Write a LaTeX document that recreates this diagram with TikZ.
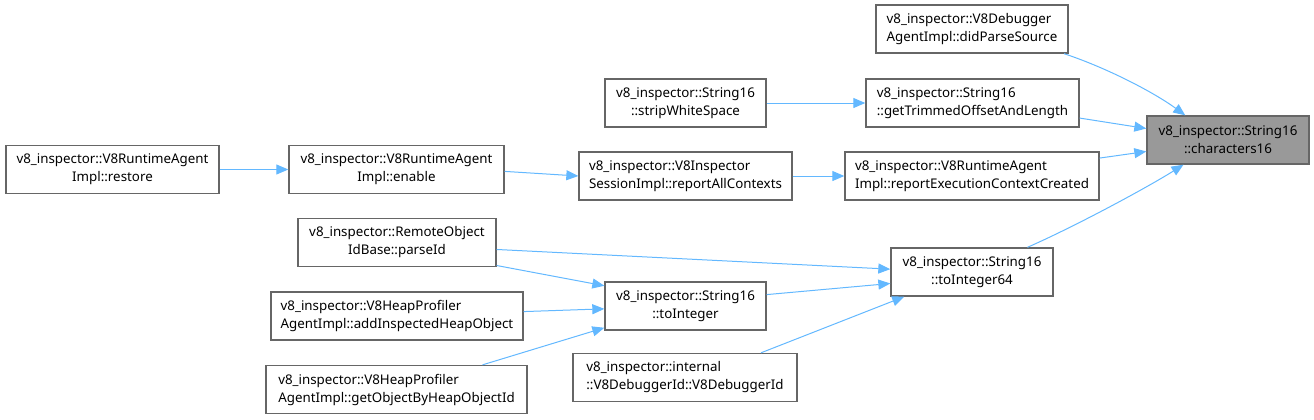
\documentclass[tikz,border=0pt]{standalone}
\usepackage{fontspec}
\setmainfont{Noto Sans}
\usepackage{tikz}
\usetikzlibrary{arrows.meta}
\definecolor{dxedge}{HTML}{63B8FF}
\definecolor{dxborder}{HTML}{666666}
\definecolor{dxhighlight}{HTML}{999999}

\begin{document}
\begin{tikzpicture}[x=0.75pt,y=-0.75pt,
  fnode/.style={rectangle, draw=dxborder, fill=white, line width=1pt, inner sep=0pt,
               minimum height=36pt, align=center, font=\fontsize{10}{13.5}\selectfont},
  lnode/.style={fnode, align=left},
  hlnode/.style={fnode, fill=dxhighlight},
  arrow/.style={-{Stealth[inset=0pt,length=9pt,width=7.5pt]}, draw=dxedge, line width=0.75pt}
]
  \useasboundingbox (0,0) rectangle (1314,419);
  \node[hlnode,minimum width=121.5pt] (ch16) at (1228,140) {v8\_inspector::String16\\::characters16};
  \node[lnode,minimum width=144pt] (didParse) at (972,29) {v8\_inspector::V8Debugger\\AgentImpl::didParseSource};
  \node[lnode,minimum width=159.75pt] (getTrim) at (972.5,103) {v8\_inspector::String16\\::getTrimmedOffsetAndLength};
  \node[fnode,minimum width=120.75pt] (strip) at (685.5,103) {v8\_inspector::String16\\::stripWhiteSpace};
  \node[lnode,minimum width=190.5pt] (repExec) at (972,176) {v8\_inspector::V8RuntimeAgent\\Impl::reportExecutionContextCreated};
  \node[lnode,minimum width=159.75pt] (repAll) at (685.5,176) {v8\_inspector::V8Inspector\\SessionImpl::reportAllContexts};
  \node[fnode,minimum width=161.25pt] (enable) at (396.5,169.5) {v8\_inspector::V8RuntimeAgent\\Impl::enable};
  \node[fnode,minimum width=159.75pt] (restore) at (112.5,169.5) {v8\_inspector::V8RuntimeAgent\\Impl::restore};
  \node[fnode,minimum width=121.5pt] (toInt64) at (972,272) {v8\_inspector::String16\\::toInteger64};
  \node[fnode,minimum width=148.5pt] (parseId) at (397,242.5) {v8\_inspector::RemoteObject\\IdBase::parseId};
  \node[fnode,minimum width=120.75pt] (toInt) at (685.5,306) {v8\_inspector::String16\\::toInteger};
  \node[lnode,minimum width=189pt] (addHeap) at (397,316) {v8\_inspector::V8HeapProfiler\\AgentImpl::addInspectedHeapObject};
  \node[lnode,minimum width=168pt] (dbgId) at (685,377.5) {v8\_inspector::internal\\::V8DebuggerId::V8DebuggerId};
  \node[lnode,minimum width=195.75pt] (getObj) at (396.5,389.5) {v8\_inspector::V8HeapProfiler\\AgentImpl::getObjectByHeapObjectId};

  % callers of characters16
  \draw[arrow] (didParse.-15) .. controls +(45,15) and +(-30,-22) .. (ch16.150);
  \draw[arrow] (getTrim.-8) -- (ch16.172);
  \draw[arrow] (repExec.8) -- (ch16.188);
  \draw[arrow] (toInt64.24) .. controls +(50,-22) and +(-35,22) .. (ch16.209);
  % upper chains
  \draw[arrow] (strip.east) -- (getTrim.west);
  \draw[arrow] (repAll.east) -- (repExec.west);
  \draw[arrow] (enable.-1.5) -- (repAll.west);
  \draw[arrow] (restore.east) -- (enable.west);
  % toInteger / toInteger64
  \draw[arrow] (parseId.-4) -- (toInt64.178);
  \draw[arrow] (parseId.-13) -- (toInt.166);
  \draw[arrow] (toInt.8) -- (toInt64.188);
  \draw[arrow] (addHeap.2) -- (toInt.182);
  \draw[arrow] (getObj.16) -- (toInt.195);
  \draw[arrow] (dbgId.18) -- (toInt64.200);
\end{tikzpicture}
\end{document}
